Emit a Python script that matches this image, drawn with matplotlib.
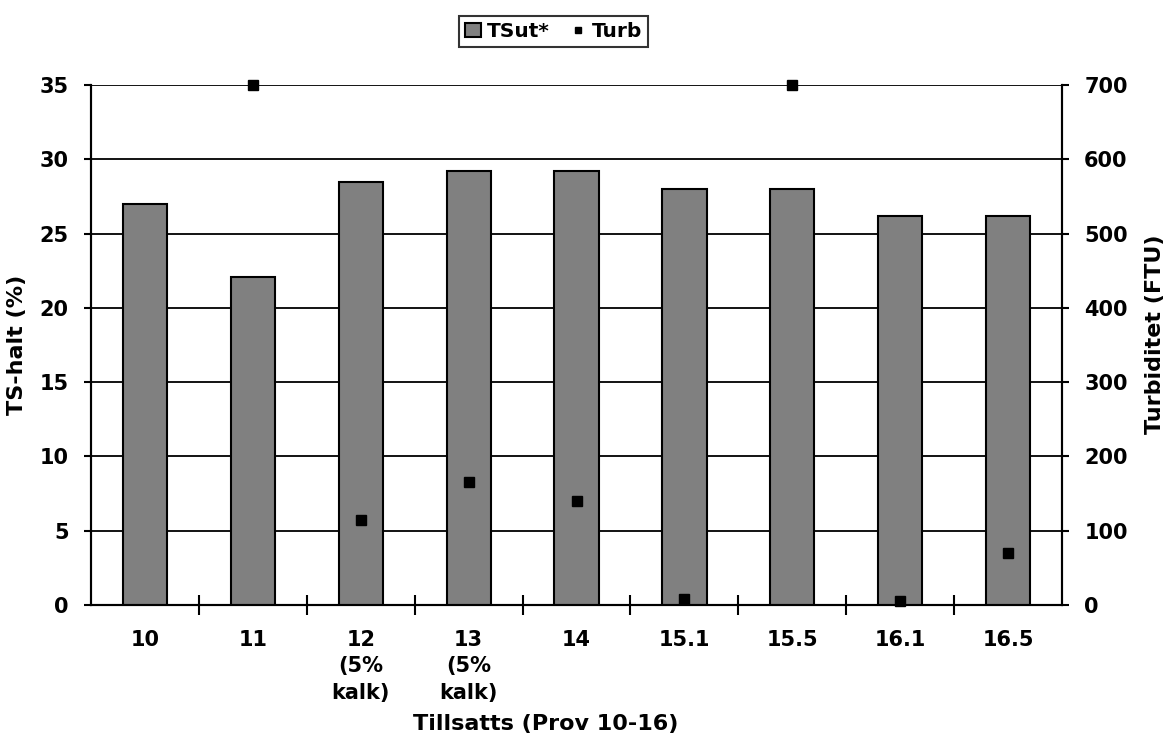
import numpy as np
import matplotlib
matplotlib.use("Agg")
import matplotlib.pyplot as plt

plt.rcParams['font.family'] = ['DejaVu Sans']
plt.rcParams['font.weight'] = 'bold'

# prov och värden
prover = ["10", "11", "12\n(5%\nkalk)", "13\n(5%\nkalk)", "14", "15.1", "15.5", "16.1", "16.5"]
ts_ut = [27.0, 22.1, 28.5, 29.2, 29.2, 28.0, 28.0, 26.2, 26.2]
turb = [np.nan, 700, 115, 165, 140, 8, 700, 5, 70]

fig = plt.figure(figsize=(11.7, 7.42), dpi=100)
ax = fig.add_axes([0.0778, 0.1846, 0.8299, 0.7008])
ax2 = ax.twinx()

x = np.arange(len(prover))
bars = ax.bar(x, ts_ut, width=0.41, color="#808080", edgecolor="black",
              linewidth=1.5, zorder=3, label="TSut*")
pts, = ax2.plot(x, turb, linestyle="none", marker="s", markersize=7,
                color="black", clip_on=False, zorder=4, label="Turb")

ax.set_xlim(-0.5, len(prover) - 0.5)
ax.set_ylim(0, 35)
ax.set_yticks(np.arange(0, 36, 5))
ax2.set_ylim(0, 700)
ax2.set_yticks(np.arange(0, 701, 100))
ax.set_zorder(ax2.get_zorder() - 1)
ax.patch.set_visible(False)

ax.yaxis.grid(True, color="black", linewidth=1.3, zorder=0)
ax.set_axisbelow(True)

ax.set_xticks(x)
ax.set_xticklabels(prover, linespacing=1.4, va="top")
ax.set_xticks(np.arange(0.5, len(prover) - 0.5, 1), minor=True)
ax.tick_params(axis="x", which="major", length=0, pad=18, labelsize=15)
ax.tick_params(axis="x", which="minor", direction="inout", length=14, width=1.5)
ax.tick_params(axis="y", direction="out", length=5, width=1.5, labelsize=15, pad=11)
ax2.tick_params(axis="y", direction="out", length=5, width=1.5, labelsize=15, pad=11)

for a in (ax, ax2):
    for s in a.spines.values():
        s.set_linewidth(1.5)
    a.spines["top"].set_visible(False)

ax.set_ylabel("TS-halt (%)", fontsize=16, fontweight="bold", labelpad=9)
ax2.set_ylabel("Turbiditet (FTU)", fontsize=16, fontweight="bold", labelpad=12)
ax2.yaxis.label.set_y(0.52)
ax.set_xlabel("Tillsatts (Prov 10-16)", fontsize=16, fontweight="bold", labelpad=8)
ax.xaxis.label.set_x(0.468)

leg = fig.legend(handles=[bars, pts], labels=["TSut*", "Turb"], loc="center",
                 bbox_to_anchor=(0.473, 0.958), ncol=2, fontsize=14.5, frameon=True,
                 fancybox=False, edgecolor="black", handlelength=0.8,
                 handletextpad=0.3, columnspacing=1.0, borderpad=0.3,
                 markerscale=0.7)
leg.get_frame().set_linewidth(1.5)

fig.savefig("out.png", dpi=100)
